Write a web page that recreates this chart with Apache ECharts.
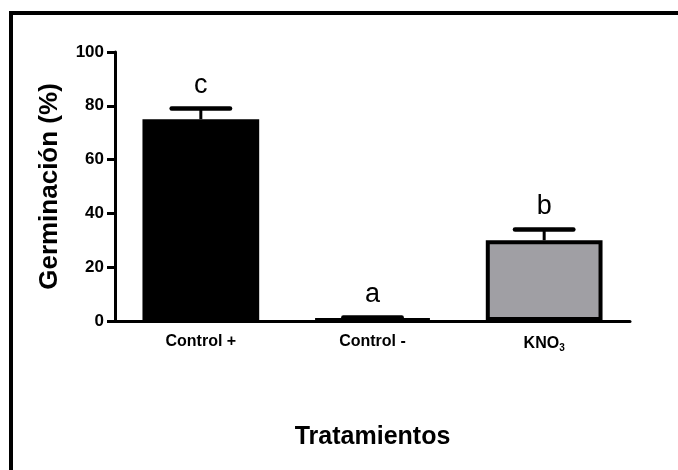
<!DOCTYPE html>
<html>
<head>
<meta charset="utf-8">
<script src="https://cdn.jsdelivr.net/npm/echarts@6/dist/echarts.min.js"></script>
<style>
  html, body { margin: 0; padding: 0; background: #fff; }
  #chart { width: 678px; height: 470px; }
</style>
</head>
<body>
<div id="chart"></div>
<script>
// Germination per treatment: mean, error and significance letters
var categories = ['Control +', 'Control -', 'KNO3'];
var meanValues = [75, 0.7, 30];
var errorValues = [4, 0.6, 4];
var groupLetters = ['c', 'a', 'b'];
var barFills = ['#000000', '#ffffff', '#a09fa4'];
var yTicks = [0, 20, 40, 60, 80, 100];

var FONT = '"Liberation Sans", Arial, Helvetica, sans-serif';
var BAR_FRACTION = 0.68;
var chart = echarts.init(document.getElementById('chart'), null, { renderer: 'canvas' });

var barData = meanValues.map(function (v, i) {
  return { value: v, itemStyle: { color: barFills[i] } };
});
var errData = meanValues.map(function (v, i) { return [i, v, errorValues[i]]; });

// Error bar (stem + cap) with the group letter above it
function renderError(params, api) {
  var idx = api.value(0), mean = api.value(1), err = api.value(2);
  var base = api.coord([idx, mean]);
  var top = api.coord([idx, mean + err]);
  var band = api.size([1, 0])[0];
  var capHalf = band * BAR_FRACTION / 4;
  return {
    type: 'group',
    children: [
      { type: 'line', shape: { x1: top[0], y1: base[1], x2: top[0], y2: top[1] },
        style: { stroke: '#000', lineWidth: 3 } },
      { type: 'line', shape: { x1: top[0] - capHalf, y1: top[1], x2: top[0] + capHalf, y2: top[1] },
        style: { stroke: '#000', lineWidth: 4.5, lineCap: 'round' } },
      { type: 'text', x: top[0], y: top[1] - 9,
        style: { text: groupLetters[params.dataIndex], fill: '#000', font: '27px ' + FONT,
                 textAlign: 'center', textVerticalAlign: 'bottom' } }
    ]
  };
}

chart.setOption({
  backgroundColor: '#ffffff',
  animation: false,
  graphic: [{
    type: 'polyline',
    shape: { points: [[11, 470], [11, 13], [678, 13]] },
    style: { stroke: '#000', lineWidth: 4, fill: null }
  }],
  grid: { left: 115, right: 48, top: 52, bottom: 149 },
  xAxis: {
    type: 'category',
    data: categories,
    name: 'Tratamientos',
    nameLocation: 'middle',
    nameGap: 104,
    nameTextStyle: { fontFamily: FONT, fontWeight: 'bold', fontSize: 25, color: '#000' },
    axisLine: { lineStyle: { color: '#000', width: 3 } },
    axisTick: { alignWithLabel: true, length: 8, lineStyle: { color: '#000', width: 3 } },
    axisLabel: {
      margin: 13,
      color: '#000',
      fontFamily: FONT,
      fontWeight: 'bold',
      fontSize: 16,
      formatter: function (v) { return v === 'KNO3' ? 'KNO{sub|3}' : v; },
      rich: {
        sub: { fontFamily: FONT, fontWeight: 'bold', fontSize: 10, color: '#000',
               verticalAlign: 'bottom', padding: [9, 0, 0, 0] }
      }
    }
  },
  yAxis: {
    type: 'value',
    min: yTicks[0],
    max: yTicks[yTicks.length - 1],
    interval: yTicks[1] - yTicks[0],
    name: 'Germinación (%)',
    nameLocation: 'middle',
    nameGap: 52,
    nameTextStyle: { fontFamily: FONT, fontWeight: 'bold', fontSize: 26, color: '#000' },
    axisLine: { show: true, lineStyle: { color: '#000', width: 3 } },
    axisTick: { show: true, length: 8, lineStyle: { color: '#000', width: 3 } },
    splitLine: { show: false },
    axisLabel: { margin: 11, color: '#000', fontFamily: FONT, fontWeight: 'bold', fontSize: 17 }
  },
  series: [
    {
      type: 'bar',
      data: barData,
      barWidth: (BAR_FRACTION * 100) + '%',
      itemStyle: { borderColor: '#000', borderWidth: 4 },
      z: 2
    },
    {
      type: 'custom',
      data: errData,
      renderItem: renderError,
      z: 3
    }
  ]
});
</script>
</body>
</html>
